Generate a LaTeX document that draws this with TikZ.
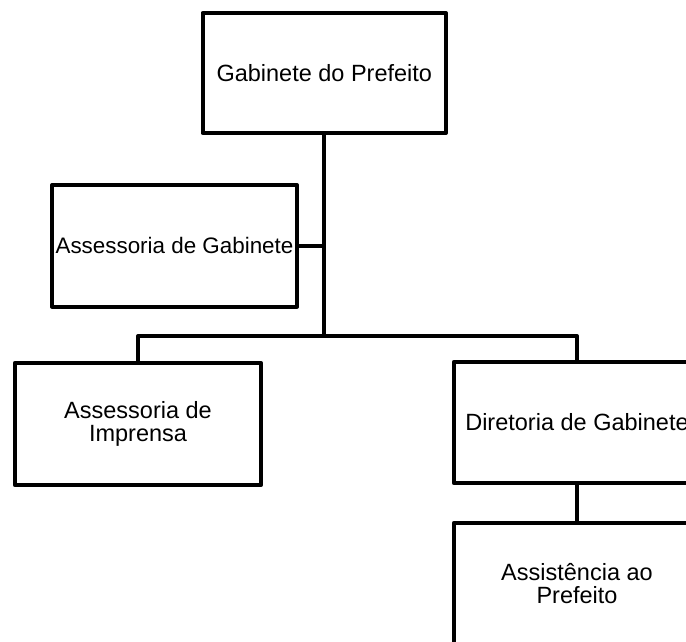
\documentclass[tikz,border=0pt]{standalone}
\usepackage{fontspec}
\setmainfont{Liberation Sans}
\begin{document}
\begin{tikzpicture}[x=1pt,y=-1pt,
  box/.style={draw=black, line width=4pt, line join=round, rectangle, inner sep=0pt, outer sep=0pt, align=center, font=\fontsize{23.5}{23}\selectfont},
  conn/.style={draw=black, line width=4pt, line join=round}]
\useasboundingbox (0,0) rectangle (686,641);
\clip (0,0) rectangle (686,641);
\node[box, minimum width=243.3pt, minimum height=120pt] (top) at (324.3,73) {Gabinete do Prefeito};
\node[box, minimum width=245pt, minimum height=121.7pt, font=\fontsize{22.4}{23}\selectfont] (agab) at (174.5,245.8) {Assessoria de Gabinete};
\node[box, minimum width=246pt, minimum height=122.3pt] (imp) at (138,424) {Assessoria de\\Imprensa};
\node[box, minimum width=246pt, minimum height=121.3pt] (dir) at (577,422.5) {Diretoria de Gabinete};
\node[box, minimum width=246pt, minimum height=122pt] (asst) at (577,583.7) {Assistência ao\\Prefeito};
\draw[conn] (top.south) -- ++(0,203) coordinate (j);
\draw[conn] (agab.east) -- (agab.east -| top.south);
\draw[conn] (imp.north) -- (imp.north |- j) -- (dir.north |- j) -- (dir.north);
\draw[conn] (dir.south) -- (asst.north);
\end{tikzpicture}
\end{document}
